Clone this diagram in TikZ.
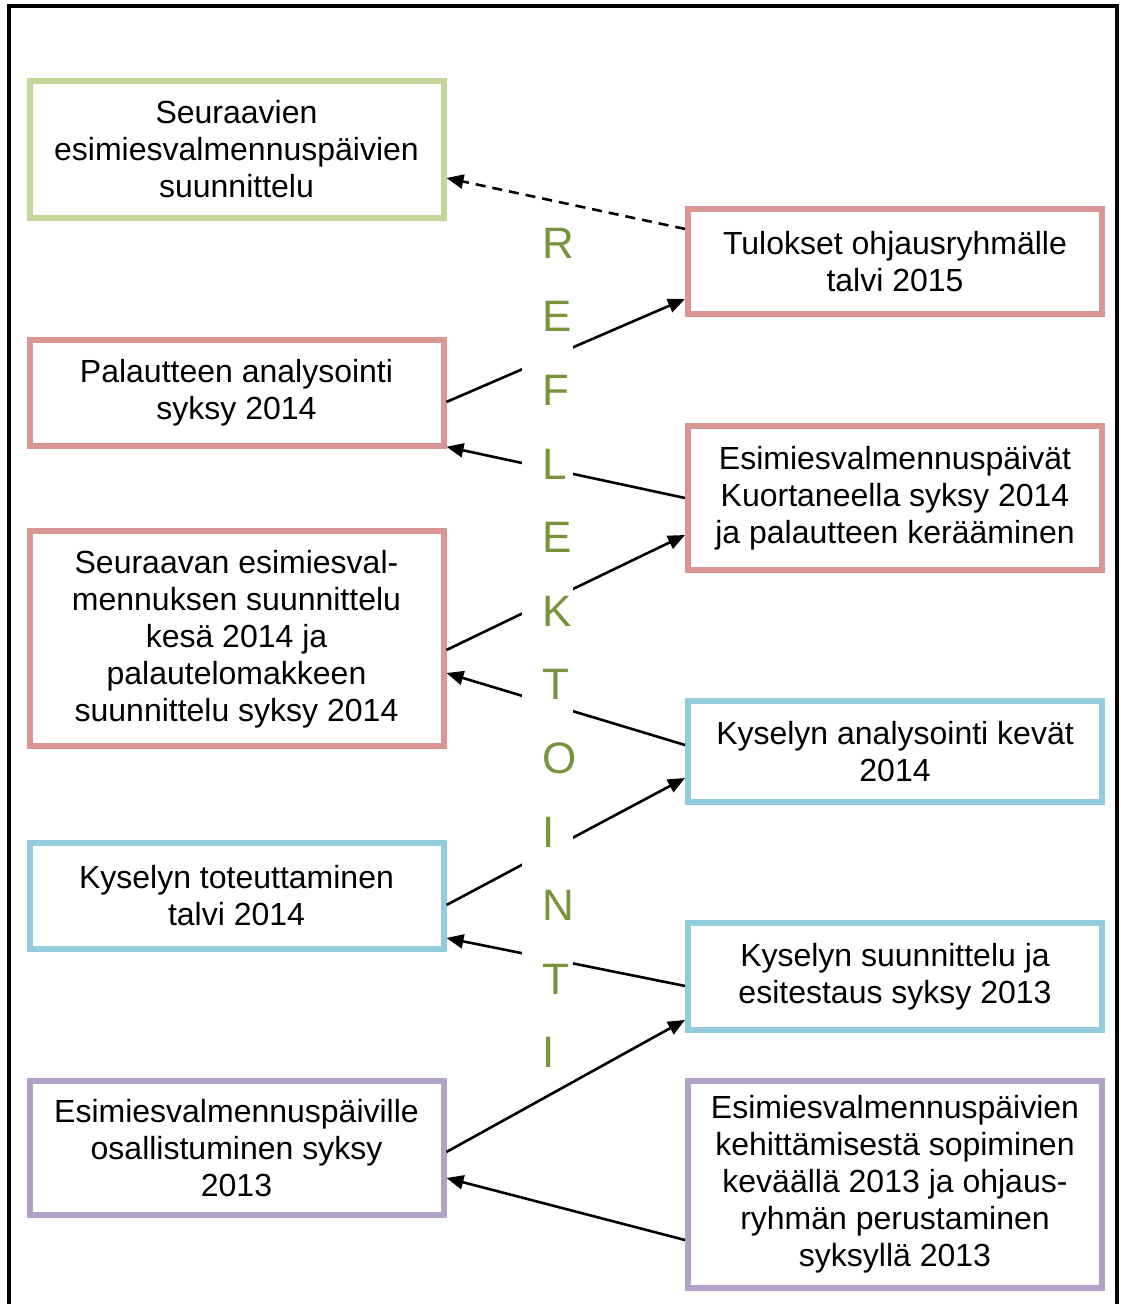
\documentclass[tikz,border=0pt]{standalone}
\usepackage{fontspec}
\setmainfont{Liberation Sans}
\usetikzlibrary{arrows.meta,positioning}
\definecolor{boxgreen}{HTML}{C3D69B}
\definecolor{boxred}{HTML}{D99694}
\definecolor{boxblue}{HTML}{93CDDD}
\definecolor{boxpurple}{HTML}{B3A2C7}
\definecolor{reflgreen}{HTML}{77933C}

\begin{document}
\begin{tikzpicture}[x=1pt,y=1pt,>={Triangle[length=8.5pt,width=7pt]},
  stage/.style={draw=#1,line width=3pt,fill=white,align=center,minimum width=207pt,inner ysep=3pt,font=\fontsize{16pt}{18.5pt}\selectfont},
  link/.style={->,line width=1.3pt}]
  \useasboundingbox (0,0) rectangle (560,-652);
  \draw[line width=2pt] (4.5,-652) -- (4.5,-3) -- (558.5,-3) -- (558.5,-652);

  \node[stage=boxgreen,minimum height=68.5pt,anchor=north] (plan) at (118.25,-39) {Seuraavien\\esimiesvalmennuspäivien\\suunnittelu};
  \node[stage=boxred,minimum height=52.75pt,below=58pt of plan] (feedback) {Palautteen analysointi\\syksy 2014};
  \node[stage=boxred,minimum height=107.5pt,below=39.9pt of feedback] (nextplan) {Seuraavan esimiesval-\\mennuksen suunnittelu\\kesä 2014 ja\\palautelomakkeen\\suunnittelu syksy 2014};
  \node[stage=boxblue,minimum height=53pt,below=45.35pt of nextplan] (survey) {Kyselyn toteuttaminen\\talvi 2014};
  \node[stage=boxpurple,minimum height=66.75pt,below=63pt of survey] (attend) {Esimiesvalmennuspäiville\\osallistuminen syksy\\2013};

  \node[stage=boxred,minimum height=52.35pt,anchor=north] (results) at (447.5,-103) {Tulokset ohjausryhmälle\\talvi 2015};
  \node[stage=boxred,minimum height=71.7pt,below=53.3pt of results] (days) {Esimiesvalmennuspäivät\\Kuortaneella syksy 2014\\ja palautteen kerääminen};
  \node[stage=boxblue,minimum height=50.5pt,below=62.8pt of days] (analysis) {Kyselyn analysointi kevät\\2014};
  \node[stage=boxblue,minimum height=53.35pt,below=57.35pt of analysis] (design) {Kyselyn suunnittelu ja\\esitestaus syksy 2013};
  \node[stage=boxpurple,minimum height=103.5pt,below=22.65pt of design] (agree) {Esimiesvalmennuspäivien\\kehittämisestä sopiminen\\keväällä 2013 ja ohjaus-\\ryhmän perustaminen\\syksyllä 2013};

  \draw[link,dash pattern=on 5pt off 3.5pt] ([yshift=16.2pt]results.west) -- ([yshift=-14.25pt]plan.east);
  \draw[link] ([yshift=-4.6pt]feedback.east) -- ([yshift=-18.8pt]results.west); \draw[link] (days.west) -- ([yshift=-27pt]feedback.east);
  \draw[link] ([yshift=-5.6pt]nextplan.east) -- ([yshift=-18.5pt]days.west); \draw[link] ([yshift=3.4pt]analysis.west) -- ([yshift=-17.1pt]nextplan.east);
  \draw[link] ([yshift=-4.5pt]survey.east) -- ([yshift=-13.1pt]analysis.west); \draw[link] ([yshift=-4.8pt]design.west) -- ([yshift=-21pt]survey.east);
  \draw[link] ([yshift=-2.1pt]attend.east) -- ([yshift=-21.8pt]design.west); \draw[link] ([yshift=-27.75pt]agree.west) -- ([yshift=-15.1pt]attend.east);

  \node[fill=white,minimum width=25.5pt,minimum height=433pt,inner sep=0pt] (gap) at (273.75,-324) {};
  \node[text=reflgreen,align=left,inner sep=0pt,anchor=west,font=\fontsize{22pt}{36.8pt}\selectfont] (letters) at (270.8,-324) {R\\E\\F\\L\\E\\K\\T\\O\\I\\N\\T\\I};
\end{tikzpicture}
\end{document}
